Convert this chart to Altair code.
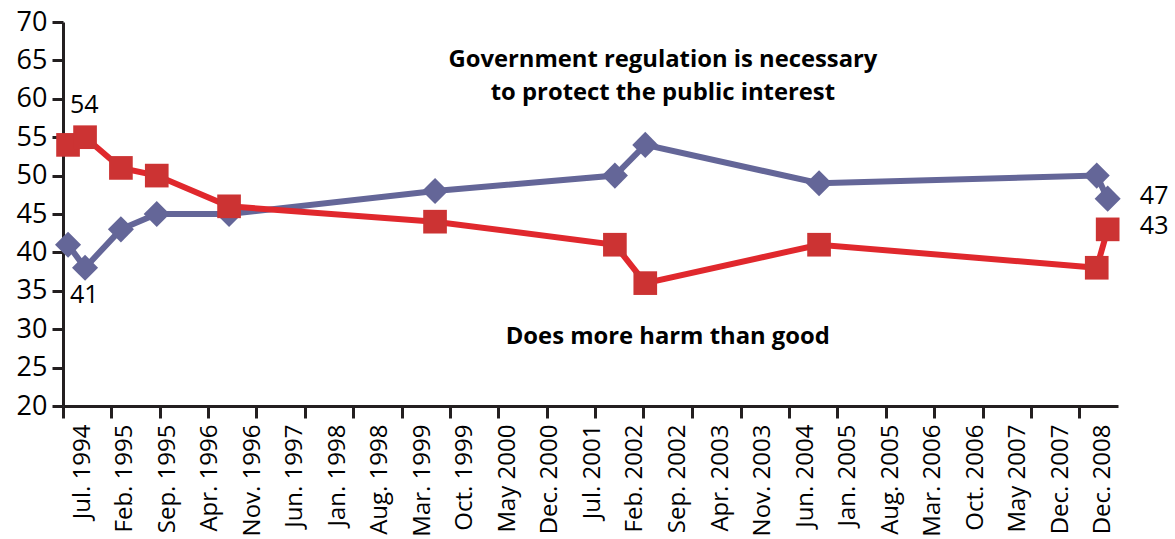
import json
import altair as alt
import pandas as pd

# ---- data (x = months after Jul. 1994 on the label grid) ----
survey_month = [-2.3, 0.5, 6.4, 12.3, 24.2, 58.1, 87.7, 92.7, 121.3, 167.0, 168.8]
necessary = [41, 38, 43, 45, 45, 48, 50, 54, 49, 50, 47]
harm = [54, 55, 51, 50, 46, 44, 41, 36, 41, 38, 43]

axis_labels = ["Jul. 1994", "Feb. 1995", "Sep. 1995", "Apr. 1996", "Nov. 1996",
               "Jun. 1997", "Jan. 1998", "Aug. 1998", "Mar. 1999", "Oct. 1999",
               "May 2000", "Dec. 2000", "Jul. 2001", "Feb. 2002", "Sep. 2002",
               "Apr. 2003", "Nov. 2003", "Jun. 2004", "Jan. 2005", "Aug. 2005",
               "Mar. 2006", "Oct. 2006", "May 2007", "Dec. 2007", "Dec. 2008"]
label_month = [0, 7, 14, 21, 28, 35, 42, 49, 56, 63, 70, 77, 84, 91, 98, 105,
               112, 119, 126, 133, 140, 147, 154, 161, 168]
tick_month = [-3.13, 4.8, 12.8, 20.8, 28.7, 36.7, 44.6, 52.6, 60.6, 68.5, 76.5,
              84.5, 92.4, 100.4, 108.4, 116.3, 124.3, 132.3, 140.2, 148.2, 156.2, 164.1]
y_ticks = [20, 25, 30, 35, 40, 45, 50, 55, 60, 65, 70]

ann_text = ["Government regulation is necessary", "to protect the public interest",
            "Does more harm than good"]
ann_month = [95.6, 95.6, 96.4]
ann_value = [65.0, 60.8, 29.0]

num_text = ["54", "41", "47", "43"]
num_month = [-1.97, -1.97, 174.1, 174.1]
num_value = [59.2, 34.45, 47.4, 43.4]

FONT = "Open Sans"
INK = "#231f20"
BLUE = "#646698"
RED_LINE = "#e0282d"
RED_SQ = "#cc3333"

df = pd.DataFrame({"m": survey_month, "necessary": necessary, "harm": harm})
lab_df = pd.DataFrame({"lm": label_month, "lab": axis_labels})
ann_df = pd.DataFrame({"m": ann_month, "v": ann_value, "t": ann_text})
num_df = pd.DataFrame({"m": num_month, "v": num_value, "t": num_text})

xscale = alt.Scale(domain=[-3.13, 170.5], nice=False, zero=False)
yscale = alt.Scale(domain=[20, 70], nice=False, zero=False)

y_axis = alt.Axis(values=y_ticks, grid=False, title=None, tickSize=11, tickWidth=3,
                  domainWidth=3, domainColor=INK, tickColor=INK, labelFont=FONT,
                  labelFontSize=27, labelColor="black", labelPadding=5)

tick_axis = alt.Axis(values=tick_month, labels=False, grid=False, title=None,
                     tickSize=12, tickWidth=3, domainWidth=3, domainColor=INK,
                     tickColor=INK, orient="bottom")

label_expr = json.dumps(axis_labels) + "[round(datum.value / 7)]"
label_axis = alt.Axis(values=label_month, labelExpr=label_expr, grid=False, title=None,
                      ticks=False, domain=False, labelAngle=270, labelFont=FONT,
                      labelFontSize=24, labelColor="black", labelPadding=18,
                      labelOverlap=False, orient="bottom")

blue_line = alt.Chart(df).mark_line(color=BLUE, strokeWidth=6).encode(
    x=alt.X("m:Q", scale=xscale, axis=tick_axis),
    y=alt.Y("necessary:Q", scale=yscale, axis=y_axis),
)
blue_pts = alt.Chart(df).mark_point(shape="diamond", filled=True, color=BLUE,
                                    opacity=1, size=680).encode(
    x=alt.X("m:Q", scale=xscale, axis=None),
    y=alt.Y("necessary:Q", scale=yscale, axis=y_axis),
)
red_line = alt.Chart(df).mark_line(color=RED_LINE, strokeWidth=6).encode(
    x=alt.X("m:Q", scale=xscale, axis=None),
    y=alt.Y("harm:Q", scale=yscale, axis=y_axis),
)
red_pts = alt.Chart(df).mark_point(shape="square", filled=True, color=RED_SQ,
                                   opacity=1, size=560).encode(
    x=alt.X("m:Q", scale=xscale, axis=None),
    y=alt.Y("harm:Q", scale=yscale, axis=y_axis),
)
labels_layer = alt.Chart(lab_df).mark_rule(opacity=0).encode(
    x=alt.X("lm:Q", scale=xscale, axis=label_axis),
)
ann_layer = alt.Chart(ann_df).mark_text(font=FONT, fontSize=23.8, fontWeight="bold",
                                        color="black", align="center",
                                        baseline="middle").encode(
    x=alt.X("m:Q", scale=xscale, axis=None),
    y=alt.Y("v:Q", scale=yscale, axis=y_axis),
    text="t:N",
)
num_layer = alt.Chart(num_df).mark_text(font=FONT, fontSize=25, color="black",
                                        align="left", baseline="middle").encode(
    x=alt.X("m:Q", scale=xscale, axis=None),
    y=alt.Y("v:Q", scale=yscale, axis=y_axis),
    text="t:N",
)

chart = alt.layer(blue_line, blue_pts, red_line, red_pts, labels_layer,
                  ann_layer, num_layer).resolve_axis(x="independent").properties(
    width=1055, height=384,
    autosize=alt.AutoSizeParams(type="none"),
    padding={"left": 63, "top": 22, "right": 57, "bottom": 133},
    background="white",
).configure_view(stroke=None)

chart.save("out.html", embed_options={"renderer": "svg", "actions": False})
